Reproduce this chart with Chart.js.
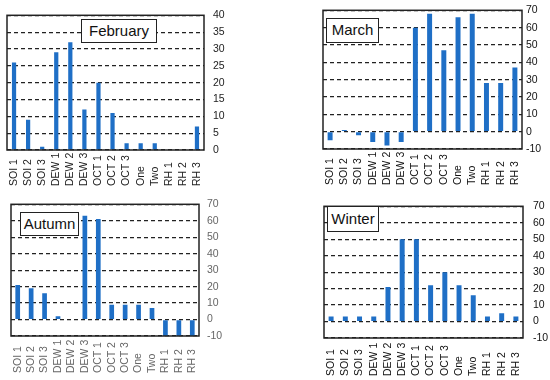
<!DOCTYPE html>
<html lang="en">

<head>
    <meta charset="UTF-8">
    <title>Seasonal bars</title>
    <script src="https://cdn.jsdelivr.net/npm/chart.js"></script>
    <style>
        html,
        body {
            margin: 0;
            padding: 0;
            background: #fff;
        }

        .wrap {
            position: relative;
            width: 550px;
            height: 380px;
            overflow: hidden;
        }

        canvas {
            position: absolute;
        }

        .tag {
            position: absolute;
            box-sizing: border-box;
            border: 1.5px solid #222;
            background: #fff;
            font-family: "Liberation Sans", Arial, sans-serif;
            font-size: 15px;
            color: #111;
            text-align: center;
            z-index: 2;
        }
    </style>
</head>

<body>
    <div class="wrap">
        <canvas id="febChart" width="275" height="190" style="left:0;top:0"></canvas>
        <canvas id="marChart" width="275" height="190" style="left:275px;top:0"></canvas>
        <canvas id="autChart" width="275" height="190" style="left:0;top:190px"></canvas>
        <canvas id="winChart" width="275" height="190" style="left:275px;top:190px"></canvas>

        <div class="tag" style="left:81px;top:19px;width:76px;height:24px;line-height:21px">February</div>
        <div class="tag" style="left:326px;top:18px;width:53px;height:25px;line-height:22px">March</div>
        <div class="tag" style="left:20px;top:212px;width:59px;height:24px;line-height:21px">Autumn</div>
        <div class="tag" style="left:327px;top:206px;width:52px;height:26px;line-height:23px">Winter</div>
    </div>

    <script>
        const categories = ['SOI 1', 'SOI 2', 'SOI 3', 'DEW 1', 'DEW 2', 'DEW 3', 'OCT 1', 'OCT 2', 'OCT 3', 'One', 'Two', 'RH 1', 'RH 2', 'RH 3'];

        const februaryValues = [26, 9, 1, 29, 32, 12, 20, 11, 2, 2, 2, 0, 0, 7];
        const marchValues = [-5, 1, -2, -6, -8, -6, 60, 68, 47, 66, 68, 28, 28, 37];
        const autumnValues = [21, 19, 16, 2, 0, 63, 61, 9, 9, 9, 7, -10, -10, -10];
        const winterValues = [3, 3, 3, 3, 21, 50, 50, 22, 30, 22, 16, 3, 5, 3];

        // y axis: min, max, step
        const febAxis = [0, 40, 5];
        const otherAxis = [-10, 70, 10];

        const barColor = '#1f6fc6';
        const fontFamily = '"Liberation Sans", Arial, sans-serif';

        // box round the plot area + rotated category labels, start aligned at the bottom
        const framePlugin = {
            id: 'frame',
            afterDatasetsDraw(chart) {
                const a = chart.chartArea;
                const ctx = chart.ctx;
                ctx.save();
                ctx.strokeStyle = '#222';
                ctx.lineWidth = 1.5;
                ctx.strokeRect(a.left, a.top, a.right - a.left, a.bottom - a.top);
                ctx.restore();
            },
            afterDraw(chart, args, opts) {
                const xs = chart.scales.x;
                const ctx = chart.ctx;
                ctx.save();
                ctx.font = '10.5px ' + fontFamily;
                ctx.fillStyle = opts.color;
                chart.data.labels.forEach((lab, i) => {
                    ctx.save();
                    ctx.translate(xs.getPixelForValue(i), opts.base);
                    ctx.rotate(-Math.PI / 2);
                    ctx.textAlign = 'left';
                    ctx.textBaseline = 'middle';
                    ctx.fillText(lab, 0, 0);
                    ctx.restore();
                });
                ctx.restore();
            }
        };

        // pad = [left, top, axisWidth, bottom]
        function makeChart(id, values, axis, pad, tickPad, labelBase, tickColor, barPct) {
            return new Chart(document.getElementById(id), {
                type: 'bar',
                data: {
                    labels: categories,
                    datasets: [{
                        data: values,
                        backgroundColor: barColor,
                        barPercentage: barPct,
                        categoryPercentage: 1
                    }]
                },
                options: {
                    responsive: false,
                    animation: false,
                    layout: { padding: { left: pad[0], top: pad[1], right: 0, bottom: pad[3] } },
                    plugins: {
                        legend: { display: false },
                        tooltip: { enabled: false },
                        frame: { base: labelBase, color: tickColor }
                    },
                    scales: {
                        x: {
                            grid: { display: false },
                            border: { display: false },
                            ticks: { display: false },
                            afterFit: s => { s.height = 0; }
                        },
                        y: {
                            position: 'right',
                            min: axis[0],
                            max: axis[1],
                            grid: { color: '#222', lineWidth: 1.2, drawTicks: false },
                            border: { display: false, dash: [4, 3] },
                            ticks: {
                                stepSize: axis[2],
                                padding: tickPad,
                                color: tickColor,
                                font: { family: fontFamily, size: 10.5 }
                            },
                            afterFit: s => { s.width = pad[2]; }
                        }
                    }
                },
                plugins: [framePlugin]
            });
        }

        makeChart('febChart', februaryValues, febAxis, [7, 10, 71, 40], 9, 186, '#222', 0.3);
        makeChart('marChart', marchValues, otherAxis, [48, 9, 28, 41], 4, 185, '#111', 0.35);
        makeChart('autChart', autumnValues, otherAxis, [11, 14, 76, 44], 8, 183, '#666', 0.35);
        makeChart('winChart', winterValues, otherAxis, [49, 9, 27, 42], 10, 186, '#111', 0.35);
    </script>
</body>

</html>
